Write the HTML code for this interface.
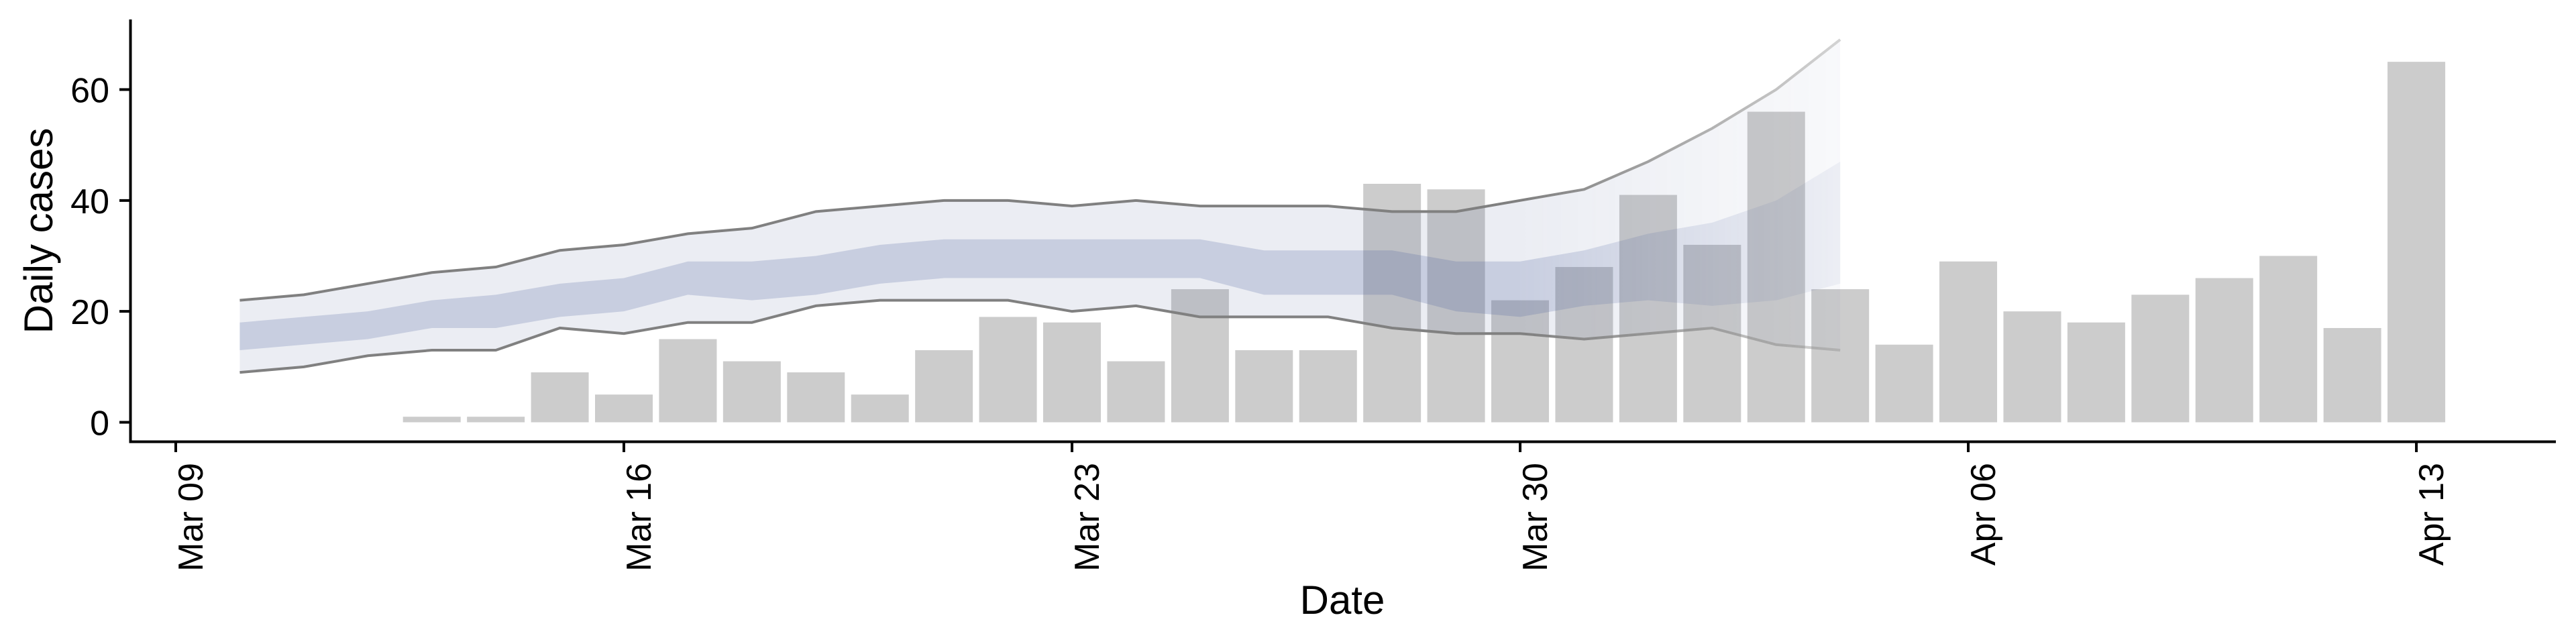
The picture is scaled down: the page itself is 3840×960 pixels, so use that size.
<!DOCTYPE html>
<html><head><meta charset="utf-8"><style>
html,body{margin:0;padding:0;background:#fff;}
svg{display:block;font-family:"Liberation Sans",Arial,sans-serif;}
</style></head><body>
<svg id="chart" width="3840" height="960" viewBox="0 0 3840 960" xmlns="http://www.w3.org/2000/svg">
<defs>
<linearGradient id="fade" gradientUnits="userSpaceOnUse" x1="2262" y1="0" x2="2740" y2="0">
<stop offset="0" stop-color="#fff" stop-opacity="1"/>
<stop offset="1" stop-color="#fff" stop-opacity="0.35"/>
</linearGradient>
<mask id="fadeMask"><rect x="0" y="0" width="3840" height="960" fill="url(#fade)"/></mask>
</defs>
<g id="bars"></g>
<g id="bands" mask="url(#fadeMask)"></g>
<g id="axes"></g>
</svg>
<script>
const barDates = ["2020-03-13","2020-03-14","2020-03-15","2020-03-16","2020-03-17","2020-03-18","2020-03-19","2020-03-20","2020-03-21","2020-03-22","2020-03-23","2020-03-24","2020-03-25","2020-03-26","2020-03-27","2020-03-28","2020-03-29","2020-03-30","2020-03-31","2020-04-01","2020-04-02","2020-04-03","2020-04-04","2020-04-05","2020-04-06","2020-04-07","2020-04-08","2020-04-09","2020-04-10","2020-04-11","2020-04-12","2020-04-13"];
const barValues = [1,1,9,5,15,11,9,5,13,19,18,11,24,13,13,43,42,22,28,41,32,56,24,14,29,20,18,23,26,30,17,65];
const bandStart = "2020-03-10";
const outerUpper = [22,23,25,27,28,31,32,34,35,38,39,40,40,39,40,39,39,39,38,38,40,42,47,53,60,69];
const outerLower = [9,10,12,13,13,17,16,18,18,21,22,22,22,20,21,19,19,19,17,16,16,15,16,17,14,13];
const innerUpper = [18,19,20,22,23,25,26,29,29,30,32,33,33,33,33,33,31,31,31,29,29,31,34,36,40,47];
const innerLower = [13,14,15,17,17,19,20,23,22,23,25,26,26,26,26,26,23,23,23,20,19,21,22,21,22,25];
const yTicks = [0,20,40,60];
const xTickDates = ["2020-03-09","2020-03-16","2020-03-23","2020-03-30","2020-04-06","2020-04-13"];
const xTickLabels = ["Mar 09","Mar 16","Mar 23","Mar 30","Apr 06","Apr 13"];

const NS="http://www.w3.org/2000/svg";
const day0 = Date.parse("2020-03-09");
const DAY=86400000;
function xs(d){ return 262 + (Date.parse(d)-day0)/DAY*95.43; }
function xi(i){ return 262 + ((Date.parse(bandStart)-day0)/DAY + i)*95.43; }
function ys(v){ return 629.5 - v*8.267; }
function mk(tag, attrs, parent){ const e=document.createElementNS(NS,tag); for(const k in attrs) e.setAttribute(k,attrs[k]); parent.appendChild(e); return e; }

const bars=document.getElementById('bars');
barValues.forEach((v,i)=>{
  const cx=xs(barDates[i]), w=86;
  const r=mk('rect',{x:cx-w/2,y:ys(v),width:w,height:ys(0)-ys(v),fill:'#cccccc'},bars);
  
  
});

const bands=document.getElementById('bands');
function area(up,lo,fill,op,name){
  let d='M'+up.map((v,i)=>xi(i)+','+ys(v)).join(' L');
  for(let i=lo.length-1;i>=0;i--) d+=' L'+xi(i)+','+ys(lo[i]);
  d+=' Z';
  const p=mk('path',{d:d,fill:fill,'fill-opacity':op},bands);
  
  
}
area(outerUpper,outerLower,'#4a5a90',0.11,'outer-band');
area(innerUpper,innerLower,'#4a5f9a',0.22,'inner-band');
function line(arr,name){
  const p=mk('polyline',{points:arr.map((v,i)=>xi(i)+','+ys(v)).join(' '),fill:'none',stroke:'#808080','stroke-width':4},bands);
  
  
}
line(outerUpper,'upper-bound-line');
line(outerLower,'lower-bound-line');

const ax=document.getElementById('axes');
let a=mk('path',{d:'M194.5,29 V658.5 H3810',fill:'none',stroke:'#000','stroke-width':4},ax);


yTicks.forEach(v=>{
  const t=mk('line',{x1:178,x2:194.5,y1:ys(v),y2:ys(v),stroke:'#000','stroke-width':4},ax);
  
  
  const l=mk('text',{x:163,y:ys(v)+19,'text-anchor':'end','font-size':52,fill:'#000'},ax);
  l.textContent=v;
  
  
});
xTickDates.forEach((d,i)=>{
  const x=xs(d);
  const t=mk('line',{x1:x,x2:x,y1:658.5,y2:674,stroke:'#000','stroke-width':4},ax);
  
  
  const l=mk('text',{x:0,y:0,'text-anchor':'end','font-size':52,fill:'#000',transform:'translate('+(x+40)+',690) rotate(-90)'},ax);
  l.textContent=xTickLabels[i];
  
  
});
let yt=mk('text',{x:0,y:0,'text-anchor':'middle','font-size':60,fill:'#000',transform:'translate(78,344) rotate(-90)'},ax);
yt.textContent='Daily cases';


let xt=mk('text',{x:2001,y:915,'text-anchor':'middle','font-size':60,fill:'#000'},ax);
xt.textContent='Date';


</script>
</body></html>
